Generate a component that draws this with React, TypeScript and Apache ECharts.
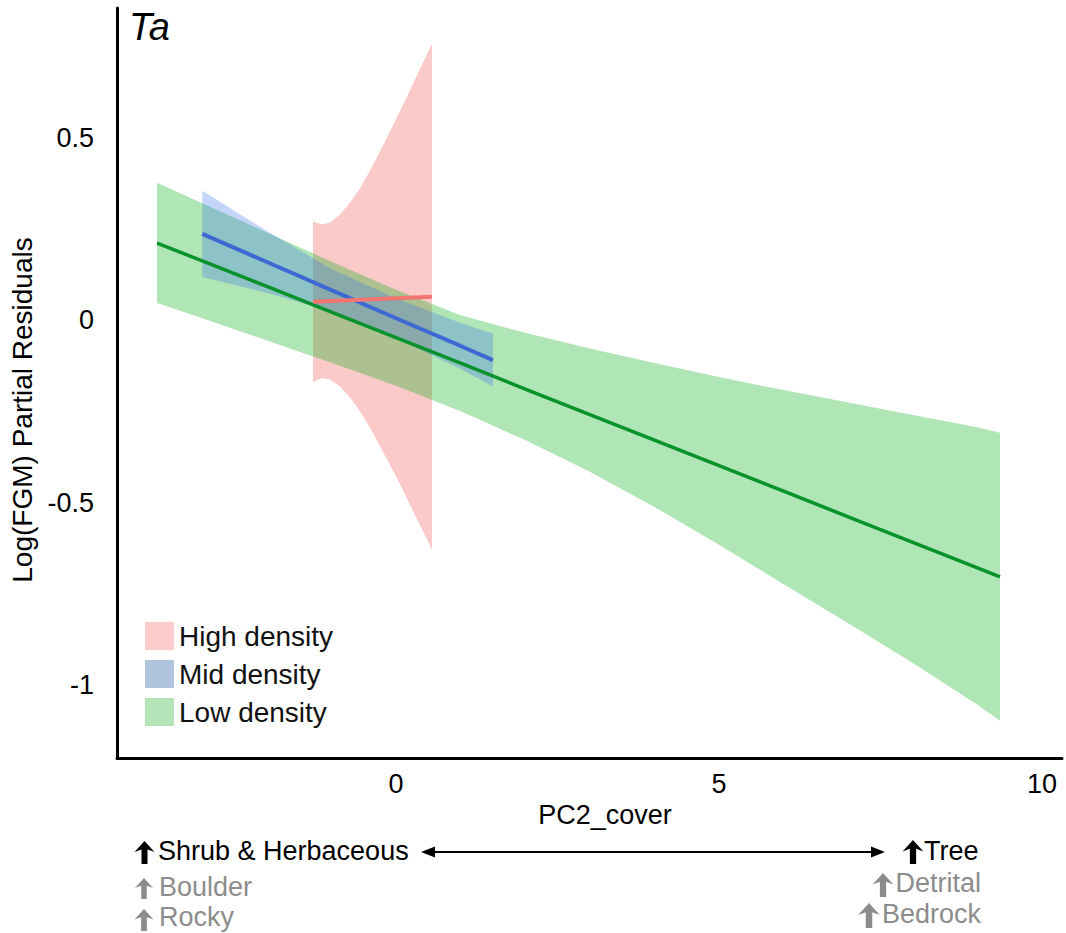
import React, { useEffect, useRef } from "react";
import * as echarts from "echarts";

const FONT = "'Liberation Sans', Arial, Helvetica, sans-serif";

// Low density (green) band and fit
const lowX = [-3.7, -3, -2, -1, 0, 1, 2, 3, 4, 5, 6, 7, 8, 9, 9.35];
const lowFit = [0.211, 0.162, 0.092, 0.022, -0.048, -0.118, -0.189, -0.259, -0.329, -0.399, -0.469, -0.539, -0.609, -0.679, -0.704];
const lowUpper = [0.376, 0.32, 0.24, 0.16, 0.083, 0.013, -0.035, -0.078, -0.118, -0.156, -0.192, -0.226, -0.26, -0.294, -0.309];
const lowLower = [0.047, 0.005, -0.056, -0.117, -0.18, -0.25, -0.329, -0.416, -0.512, -0.616, -0.724, -0.831, -0.94, -1.054, -1.098];

// Mid density (blue) band and fit
const midX = [-3.0, -2, -1, 0, 1, 1.5];
const midFit = [0.236, 0.159, 0.082, 0.005, -0.071, -0.11];
const midUpper = [0.354, 0.244, 0.14, 0.06, -0.008, -0.037];
const midLower = [0.118, 0.074, 0.025, -0.049, -0.134, -0.182];

// High density (red) band and fit
const highX = [-1.285, -1.146, -1.022, -0.867, -0.712, -0.557, -0.372, -0.17, 0.062, 0.294, 0.557];
const highUpper = [0.27, 0.262, 0.267, 0.289, 0.322, 0.361, 0.419, 0.489, 0.572, 0.659, 0.757];
const highLower = [-0.169, -0.159, -0.163, -0.182, -0.212, -0.25, -0.304, -0.372, -0.45, -0.535, -0.629];
const highFitX = [-1.285, 0.557];
const highFit = [0.05, 0.064];

const xTicks = [0, 5, 10];
const yTicks = [-1, -0.5, 0, 0.5];

const legendNames = ["High density", "Mid density", "Low density"];
const legendColors = ["#fccccc", "#b0c4de", "#b4e4b8"];

function bandSeries(name: string, xs: number[], lo: number[], hi: number[], fill: string, legendColor: string) {
  return {
    type: "custom",
    name,
    silent: true,
    z: 2,
    itemStyle: { color: legendColor },
    data: xs.map((x, i) => [x, lo[i], hi[i]]),
    encode: { x: 0, y: [1, 2] },
    renderItem: (params: any, api: any) => {
      if (params.dataIndexInside !== 0) return null;
      const n = params.dataInsideLength;
      const top: number[][] = [];
      const bot: number[][] = [];
      for (let i = 0; i < n; i++) {
        const x = api.value(0, i);
        bot.push(api.coord([x, api.value(1, i)]));
        top.push(api.coord([x, api.value(2, i)]));
      }
      return {
        type: "polygon",
        shape: { points: top.concat(bot.reverse()) },
        style: { fill },
      };
    },
  };
}

function lineSeries(name: string, xs: number[], ys: number[], color: string, width: number) {
  return {
    type: "line",
    name: name + " fit",
    z: 5,
    silent: true,
    symbol: "none",
    showSymbol: false,
    data: xs.map((x, i) => [x, ys[i]]),
    lineStyle: { color, width },
    itemStyle: { color },
  };
}

function upArrow(cx: number, top: number, h: number, fill: string) {
  const s = h / 23;
  return {
    type: "polygon",
    shape: {
      points: [
        [cx, top],
        [cx + 10 * s, top + 11 * s],
        [cx + 3 * s, top + 8.5 * s],
        [cx + 3 * s, top + h],
        [cx - 3 * s, top + h],
        [cx - 3 * s, top + 8.5 * s],
        [cx - 10 * s, top + 11 * s],
      ],
    },
    style: { fill },
  };
}

function label(text: string, x: number, y: number, fill: string, align: string = "left") {
  return {
    type: "text",
    style: {
      text,
      x,
      y,
      fill,
      fontSize: 27,
      fontFamily: FONT,
      textAlign: align,
      textVerticalAlign: "middle",
      align,
      verticalAlign: "middle",
    },
  };
}

export default function App() {
  const ref = useRef<HTMLDivElement>(null);
  useEffect(() => {
    if (!ref.current) return;
    const chart = echarts.init(ref.current, undefined, { renderer: "svg" });
    const grey = "#8c8c8c";
    const option: any = {
      animation: false,
      backgroundColor: "#ffffff",
      title: {
        text: "Ta",
        left: 124,
        top: 3,
        textStyle: { fontStyle: "italic", fontSize: 38, fontWeight: "normal", color: "#000", fontFamily: FONT },
      },
      legend: {
        orient: "vertical",
        left: 145,
        top: 622,
        padding: 0,
        itemWidth: 29,
        itemHeight: 28,
        itemGap: 10,
        selectedMode: false,
        textStyle: { fontSize: 28, color: "#111", fontFamily: FONT },
        data: legendNames.map((n, i) => ({ name: n, icon: "rect", itemStyle: { color: legendColors[i] } })),
      },
      grid: { left: 117, top: 8, width: 945, height: 750 },
      xAxis: {
        type: "value",
        min: -4.32,
        max: 10.31,
        name: "PC2_cover",
        nameLocation: "middle",
        nameGap: 42,
        nameTextStyle: { fontSize: 27, color: "#000", fontFamily: FONT, padding: [0, 0, 0, 31] },
        axisLine: { show: true, onZero: false, lineStyle: { color: "#000", width: 3 } },
        axisTick: { show: false },
        splitLine: { show: false },
        axisLabel: { customValues: xTicks, fontSize: 27, color: "#000", fontFamily: FONT, margin: 12 },
      },
      yAxis: {
        type: "value",
        min: -1.2,
        max: 0.855,
        name: "Log(FGM) Partial Residuals",
        nameLocation: "middle",
        nameGap: 76,
        nameTextStyle: { fontSize: 28, color: "#000", fontFamily: FONT, padding: [0, 54, 0, 0] },
        axisLine: { show: true, onZero: false, lineStyle: { color: "#000", width: 3 } },
        axisTick: { show: false },
        splitLine: { show: false },
        axisLabel: { customValues: yTicks, fontSize: 27, color: "#000", fontFamily: FONT, margin: 23 },
      },
      series: [
        bandSeries("High density", highX, highLower, highUpper, "rgba(240,80,72,0.3)", legendColors[0]),
        bandSeries("Low density", lowX, lowLower, lowUpper, "rgba(0,170,20,0.31)", legendColors[2]),
        bandSeries("Mid density", midX, midLower, midUpper, "rgba(60,115,235,0.3)", legendColors[1]),
        lineSeries("Low density", lowX, lowFit, "#07922c", 3.5),
        lineSeries("Mid density", midX, midFit, "#3e68d2", 4),
        lineSeries("High density", highFitX, highFit, "#f27570", 4),
      ],
      graphic: [
        upArrow(144.5, 841, 23, "#000"),
        label("Shrub & Herbaceous", 158, 851, "#000"),
        upArrow(144, 878, 21, grey),
        label("Boulder", 159, 887, grey),
        upArrow(144, 909, 22, grey),
        label("Rocky", 159, 917, grey),
        {
          type: "line",
          shape: { x1: 432, y1: 852, x2: 874, y2: 852 },
          style: { stroke: "#000", lineWidth: 2 },
        },
        { type: "polygon", shape: { points: [[421, 852], [435, 846.5], [435, 857.5]] }, style: { fill: "#000" } },
        { type: "polygon", shape: { points: [[885, 852], [871, 846.5], [871, 857.5]] }, style: { fill: "#000" } },
        upArrow(913, 840, 24, "#000"),
        label("Tree", 924, 851, "#000"),
        upArrow(883, 873, 24, grey),
        label("Detrital", 981, 883, grey, "right"),
        upArrow(869, 903, 25, grey),
        label("Bedrock", 981, 914, grey, "right"),
      ],
    };
    chart.setOption(option);
    return () => chart.dispose();
  }, []);
  return (
    <div
      ref={ref}
      style={{ position: "fixed", left: 0, top: 0, width: 1066, height: 933, background: "#fff" }}
    />
  );
}
